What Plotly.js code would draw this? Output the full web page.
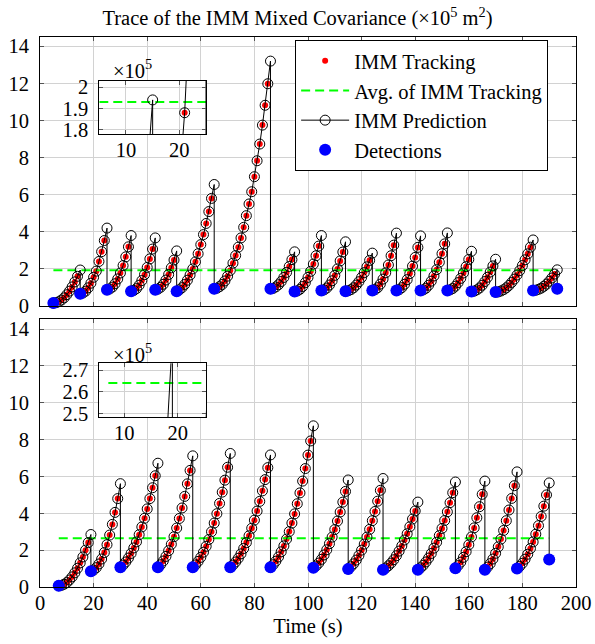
<!DOCTYPE html>
<html>
<head>
<meta charset="utf-8">
<script src="https://cdn.plot.ly/plotly-3.0.1.min.js"></script>
<style>
  html, body { margin: 0; padding: 0; background: #fff; }
  #chart { width: 595px; height: 644px; }
</style>
</head>
<body>
<div id="chart"></div>
<script>
// ---------------- data (x 10^5 m^2) ----------------
// Top panel: detection times (s) and detected (updated) covariance values
const topDetTimes  = [5, 15, 25, 34, 43, 51, 65, 86, 95, 105, 114, 124, 133, 142, 152, 161, 170, 184, 193];
const topDetValues = [0.16, 0.66, 0.88, 0.80, 0.88, 0.80, 0.93, 0.93, 0.78, 0.84, 0.80, 0.84, 0.84, 0.84, 0.84, 0.78, 0.75, 0.84, 0.93];
// Predicted values for each 1 s step after a detection, up to (and including) the next detection time
const topRise = [
  [0.18, 0.23, 0.32, 0.44, 0.61, 0.80, 1.03, 1.30, 1.60, 1.94],
  [0.70, 0.80, 0.98, 1.23, 1.55, 1.88, 2.40, 2.93, 3.53, 4.20],
  [0.92, 1.02, 1.20, 1.46, 1.78, 2.18, 2.65, 3.19, 3.80],
  [0.84, 0.94, 1.12, 1.37, 1.69, 2.08, 2.54, 3.07, 3.67],
  [0.91, 1.01, 1.17, 1.40, 1.70, 2.06, 2.48, 2.97],
  [0.87, 0.99, 1.16, 1.39, 1.67, 2.00, 2.38, 2.82, 3.31, 3.85, 4.45, 5.09, 5.80, 6.55],
  [0.96, 1.04, 1.16, 1.35, 1.61, 1.92, 2.31, 2.72, 3.17, 3.67, 4.24, 4.87, 5.50, 6.16, 6.97, 7.83, 8.73, 9.75, 10.82, 11.98, 13.2],
  [0.95, 1.03, 1.15, 1.32, 1.54, 1.81, 2.13, 2.50, 2.92],
  [0.81, 0.90, 1.05, 1.26, 1.54, 1.87, 2.26, 2.71, 3.23, 3.80],
  [0.87, 0.97, 1.13, 1.36, 1.65, 2.00, 2.43, 2.91, 3.46],
  [0.82, 0.88, 0.98, 1.13, 1.31, 1.54, 1.80, 2.11, 2.46, 2.85],
  [0.88, 0.99, 1.18, 1.45, 1.79, 2.21, 2.71, 3.28, 3.93],
  [0.88, 0.99, 1.17, 1.42, 1.75, 2.15, 2.62, 3.16, 3.78],
  [0.87, 0.96, 1.12, 1.34, 1.62, 1.96, 2.36, 2.82, 3.35, 3.94],
  [0.87, 0.94, 1.07, 1.26, 1.49, 1.78, 2.12, 2.51, 2.95],
  [0.80, 0.87, 0.97, 1.12, 1.32, 1.55, 1.83, 2.16, 2.52],
  [0.76, 0.81, 0.88, 0.98, 1.11, 1.27, 1.45, 1.67, 1.91, 2.18, 2.49, 2.81, 3.17, 3.56],
  [0.85, 0.90, 0.96, 1.06, 1.18, 1.33, 1.51, 1.72, 1.95]
];
const topAverage = 1.93;

// Bottom panel
const botDetTimes  = [7, 19, 30, 44, 57, 71, 86, 102, 115, 128, 141, 155, 166, 178, 190];
const botDetValues = [0.07, 0.85, 1.07, 1.07, 1.07, 1.07, 1.07, 1.05, 0.98, 0.94, 0.94, 1.02, 0.94, 1.00, 1.49];
const botRise = [
  [0.09, 0.15, 0.24, 0.38, 0.55, 0.77, 1.02, 1.31, 1.63, 2.00, 2.41, 2.85],
  [0.92, 1.05, 1.25, 1.52, 1.87, 2.30, 2.82, 3.40, 4.05, 4.80, 5.61],
  [1.19, 1.36, 1.57, 1.82, 2.12, 2.45, 2.84, 3.26, 3.73, 4.24, 4.80, 5.39, 6.04, 6.72],
  [1.21, 1.41, 1.66, 1.97, 2.32, 2.73, 3.20, 3.72, 4.29, 4.92, 5.60, 6.33, 7.12],
  [1.20, 1.39, 1.61, 1.89, 2.21, 2.58, 3.00, 3.47, 3.98, 4.54, 5.15, 5.80, 6.50, 7.25],
  [1.19, 1.36, 1.56, 1.80, 2.09, 2.41, 2.78, 3.19, 3.63, 4.12, 4.65, 5.22, 5.83, 6.48, 7.17],
  [1.21, 1.40, 1.63, 1.91, 2.23, 2.60, 3.01, 3.47, 3.97, 4.52, 5.11, 5.75, 6.43, 7.16, 7.93, 8.75],
  [1.14, 1.30, 1.50, 1.74, 2.02, 2.35, 2.71, 3.12, 3.58, 4.07, 4.61, 5.19, 5.81],
  [1.10, 1.26, 1.46, 1.71, 2.00, 2.33, 2.71, 3.13, 3.60, 4.10, 4.66, 5.25, 5.89],
  [1.03, 1.15, 1.30, 1.48, 1.70, 1.95, 2.23, 2.55, 2.89, 3.27, 3.69, 4.13, 4.61],
  [1.04, 1.18, 1.36, 1.57, 1.82, 2.11, 2.43, 2.79, 3.18, 3.61, 4.08, 4.58, 5.12, 5.70],
  [1.16, 1.35, 1.61, 1.92, 2.29, 2.72, 3.21, 3.76, 4.36, 5.03, 5.75],
  [1.08, 1.27, 1.52, 1.83, 2.18, 2.60, 3.07, 3.60, 4.18, 4.81, 5.50, 6.25],
  [1.12, 1.29, 1.51, 1.78, 2.09, 2.45, 2.87, 3.33, 3.83, 4.39, 5.00, 5.65]
];
const botAverage = 2.64;

// Legend labels / tick labels
const seriesNames = ['IMM Tracking', 'Avg. of IMM Tracking', 'IMM Prediction', 'Detections'];
const xTickVals = [0, 20, 40, 60, 80, 100, 120, 140, 160, 180, 200];
const yTickVals = [0, 2, 4, 6, 8, 10, 12, 14];
const topInsetXTicks = [10, 20];
const topInsetYTicks = [1.8, 1.9, 2];
const topInsetYLabels = ['1.8', '1.9', '2'];
const botInsetXTicks = [10, 20];
const botInsetYTicks = [2.5, 2.6, 2.7];
const botInsetYLabels = ['2.5', '2.6', '2.7'];

// ---------------- build series ----------------
function buildPanel(detT, detV, rise) {
  const trackX = [detT[0]], trackY = [detV[0]];
  const predX = [detT[0]], predY = [detV[0]];
  for (let k = 0; k < rise.length; k++) {
    const seg = rise[k];
    for (let j = 0; j < seg.length; j++) {
      const t = detT[k] + j + 1;
      predX.push(t); predY.push(seg[j]);
      if (j < seg.length - 1) {
        trackX.push(t); trackY.push(seg[j]);
      } else {
        trackX.push(t); trackY.push(detV[k + 1]);
        predX.push(t); predY.push(detV[k + 1]);
      }
    }
  }
  return { trackX, trackY, predX, predY };
}

const topPanel = buildPanel(topDetTimes, topDetValues, topRise);
const botPanel = buildPanel(botDetTimes, botDetValues, botRise);

const RED = 'rgb(255,0,0)', BLUE = 'rgb(0,0,255)', GREEN = 'rgb(0,255,0)';
const FONT = 'Liberation Serif';
const FS = 20.5;

function panelTraces(p, detT, detV, avg, xa, ya, showLegend, clip) {
  return [
    { type: 'scatter', mode: 'markers', x: p.trackX, y: p.trackY, xaxis: xa, yaxis: ya,
      name: seriesNames[0], legendgroup: 'g1', showlegend: showLegend,
      marker: { color: RED, size: 6, line: { width: 0 } }, cliponaxis: clip, hoverinfo: 'skip' },
    { type: 'scatter', mode: 'lines', x: [detT[0], detT[detT.length - 1]], y: [avg, avg], xaxis: xa, yaxis: ya,
      name: seriesNames[1], legendgroup: 'g2', showlegend: showLegend,
      line: { color: GREEN, width: 2, dash: '9px,5px' }, cliponaxis: true, hoverinfo: 'skip' },
    { type: 'scatter', mode: 'lines+markers', x: p.predX, y: p.predY, xaxis: xa, yaxis: ya,
      name: seriesNames[2], legendgroup: 'g3', showlegend: showLegend,
      line: { color: '#000', width: 1 },
      marker: { symbol: 'circle-open', color: '#000', size: 10, line: { width: 1, color: '#000' } },
      cliponaxis: clip, hoverinfo: 'skip' },
    { type: 'scatter', mode: 'markers', x: detT, y: detV, xaxis: xa, yaxis: ya,
      name: seriesNames[3], legendgroup: 'g4', showlegend: showLegend,
      marker: { color: BLUE, size: 12, line: { width: 0 } }, cliponaxis: clip, hoverinfo: 'skip' }
  ];
}

const data = [].concat(
  panelTraces(topPanel, topDetTimes, topDetValues, topAverage, 'x', 'y', true, false),
  panelTraces(botPanel, botDetTimes, botDetValues, botAverage, 'x2', 'y2', false, false),
  panelTraces(topPanel, topDetTimes, topDetValues, topAverage, 'x3', 'y3', false, true),
  panelTraces(botPanel, botDetTimes, botDetValues, botAverage, 'x4', 'y4', false, true)
);

const tf = { family: FONT, size: FS, color: '#000' };
const axBase = {
  showline: true, linecolor: '#000', linewidth: 1, mirror: 'ticks',
  ticks: 'inside', ticklen: 4, tickwidth: 1, tickcolor: '#555',
  showgrid: true, gridcolor: '#d2d2d2', gridwidth: 1, zeroline: false,
  tickfont: tf
};
const xBase = Object.assign({}, axBase, { ticklabelstandoff: -3 });
const yBase = Object.assign({}, axBase, { ticklabelstandoff: 6 });

const layout = {
  width: 595, height: 644,
  margin: { l: 40, r: 19, t: 37, b: 57, pad: 0 },
  paper_bgcolor: '#fff', plot_bgcolor: '#fff',
  font: tf,
  title: { text: 'Trace of the IMM Mixed Covariance (×10<sup>5</sup> m<sup>2</sup>)',
           font: tf,
           x: 0.5, xanchor: 'center', xref: 'container', y: 1 - 18 / 644, yanchor: 'middle', yref: 'container' },
  showlegend: true,
  legend: { x: 0.476, y: 0.9945, xanchor: 'left', yanchor: 'top', xref: 'paper', yref: 'paper',
            bgcolor: '#fff', bordercolor: '#000', borderwidth: 1,
            font: tf, tracegroupgap: 0, itemwidth: 48 },
  xaxis:  Object.assign({}, xBase, { domain: [0, 1], range: [0, 200], tickvals: xTickVals, anchor: 'y', showticklabels: false }),
  yaxis:  Object.assign({}, yBase, { domain: [0.5109, 1], range: [0, 14.5], tickvals: yTickVals, anchor: 'x' }),
  xaxis2: Object.assign({}, xBase, { domain: [0, 1], range: [0, 200], tickvals: xTickVals, anchor: 'y2',
            title: { text: 'Time (s)', font: tf, standoff: 6 } }),
  yaxis2: Object.assign({}, yBase, { domain: [0, 0.4873], range: [0, 14.55], tickvals: yTickVals, anchor: 'x2' }),
  xaxis3: Object.assign({}, xBase, { domain: [0.1106, 0.3097], range: [5, 25], tickvals: topInsetXTicks, anchor: 'y3' }),
  yaxis3: Object.assign({}, yBase, { domain: [0.8236, 0.9205], range: [1.78, 2.03], tickvals: topInsetYTicks, ticktext: topInsetYLabels, anchor: 'x3' }),
  xaxis4: Object.assign({}, xBase, { domain: [0.1106, 0.3097], range: [5.3, 25.3], tickvals: botInsetXTicks, anchor: 'y4' }),
  yaxis4: Object.assign({}, yBase, { domain: [0.3085, 0.4067], range: [2.482, 2.731], tickvals: botInsetYTicks, ticktext: botInsetYLabels, anchor: 'x4' }),
  annotations: [
    { text: '×10<sup>5</sup>', xref: 'paper', yref: 'paper', x: 0.1735, y: 0.9418, xanchor: 'center', yanchor: 'middle',
      showarrow: false, font: tf },
    { text: '×10<sup>5</sup>', xref: 'paper', yref: 'paper', x: 0.1735, y: 0.426, xanchor: 'center', yanchor: 'middle',
      showarrow: false, font: tf }
  ]
};

Plotly.newPlot('chart', data, layout, { staticPlot: true, displayModeBar: false });
</script>
</body>
</html>
